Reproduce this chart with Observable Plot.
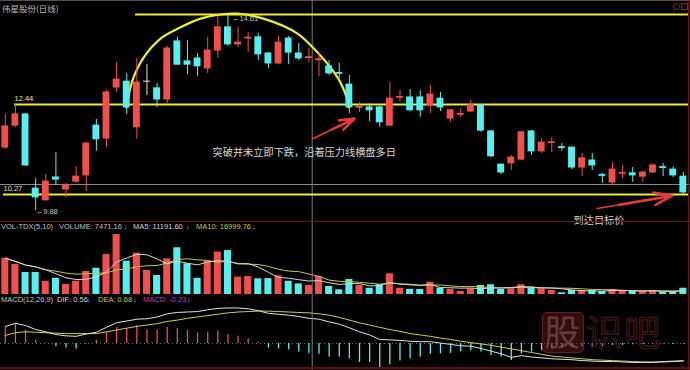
<!DOCTYPE html>
<html>
<head>
<meta charset="utf-8">
<script src="https://cdn.jsdelivr.net/npm/d3@7"></script>
<script src="https://cdn.jsdelivr.net/npm/@observablehq/plot@0.6"></script>
<style>
  html, body { margin: 0; padding: 0; background: #000; }
  #chart { position: relative; width: 690px; height: 370px; background: #000; overflow: hidden;
           font-family: "Liberation Sans", Arial, sans-serif; }
  .panel { position: absolute; left: 0; width: 690px; }
  .panel svg { display: block; }
  .txt { position: absolute; font-size: 7.5px; line-height: 8px; white-space: pre; }
  .hline { position: absolute; left: 0; width: 690px; }
  #title { position: absolute; left: 2px; top: 3px; font-family: "Noto Sans CJK SC", sans-serif;
           font-size: 8.5px; line-height: 10px; color: #bdbdbd; white-space: pre; }
  #mark { position: absolute; left: 542px; top: 311px; width: 125px; height: 42px; pointer-events: none; }
  #mark .box { position: absolute; left: 0; top: 1px; width: 40px; height: 39px; border-radius: 5px;
               background: rgba(95, 26, 26, 0.55); border: 1px solid rgba(125, 45, 45, 0.6); }
  #mark .gu { position: absolute; left: 2px; top: -2px; font-family: "Noto Sans CJK SC", sans-serif;
              font-size: 36px; line-height: 42px; color: rgba(140, 110, 110, 0.5); }
  #mark .rest { position: absolute; left: 44px; top: -2px; font-family: "Noto Sans CJK SC", sans-serif;
                font-size: 36px; line-height: 42px; color: rgba(30, 6, 6, 0.35);
                -webkit-text-stroke: 1.3px rgba(100, 34, 34, 0.65); letter-spacing: 2px; }
</style>
</head>
<body>
<div id="chart">
  <div class="hline" style="top:0;height:1px;background:#505050"></div>
  <div class="panel" id="pMain" style="top:0"></div>
  <div class="panel" id="pVol" style="top:222px"></div>
  <div class="panel" id="pMacd" style="top:295px"></div>
  <div class="hline" style="top:221px;height:1px;background:#6a1414"></div>
  <div class="hline" style="top:367px;height:2px;background:#5e1010"></div>
  <div style="position:absolute;left:688px;top:0;width:1px;height:370px;background:#6a1414"></div>
  <div style="position:absolute;left:673px;top:3px;width:5px;height:5px;border:1px solid #a02424;border-radius:50%"></div>
  <div style="position:absolute;left:681px;top:3px;width:5px;height:5px;border:1px solid #a02424"></div>
  <div id="title">伟星股份(日线)</div>
  <div id="hdr"></div>
  <div id="mark"><div class="box"></div><div class="gu">股</div><div class="rest">识吧</div></div>
</div>
<script>
// Daily candles of 伟星股份, oldest first (CNY)
const open  = [11.40, 11.93, 12.20, 10.41, 10.13, 10.68, 10.39, 10.58, 10.73, 11.93,
               11.62, 12.85, 12.99, 11.89, 12.99, 12.83, 12.56, 13.96, 13.48, 13.55,
               13.31, 13.74, 14.30, 13.89, 14.03, 14.06, 13.67, 13.43, 14.03, 13.67,
               13.56, 13.51, 13.36, 13.20, 12.92, 12.36, 12.37, 12.37, 11.93, 12.60,
               12.61, 12.61, 12.42, 12.58, 12.10, 12.19, 12.27, 12.42, 11.79, 10.99,
               11.02, 11.11, 11.79, 11.31, 11.51, 11.41, 11.40, 10.92, 11.09, 10.74,
               10.56, 10.77, 10.78, 10.70, 10.80, 10.93, 10.87, 10.70];
const high  = [12.20, 12.44, 12.22, 10.65, 10.75, 11.28, 10.54, 10.94, 11.52, 12.08,
               12.78, 13.45, 13.19, 13.55, 13.40, 12.95, 13.84, 14.06, 13.98, 13.67,
               14.06, 14.56, 14.61, 14.30, 14.18, 14.15, 13.69, 14.08, 14.08, 13.91,
               13.79, 13.69, 13.50, 13.43, 13.14, 12.49, 12.46, 12.39, 12.97, 12.78,
               12.80, 12.78, 12.90, 12.73, 12.32, 12.34, 12.54, 12.44, 11.81, 11.00,
               11.21, 11.79, 11.81, 11.62, 11.64, 11.50, 11.41, 11.26, 11.26, 10.78,
               11.04, 10.97, 10.92, 10.82, 11.00, 11.02, 10.94, 10.80];
const low   = [11.36, 11.89, 10.95, 9.88, 10.11, 10.49, 10.20, 10.54, 10.34, 11.31,
               11.40, 12.73, 12.20, 11.60, 12.66, 12.37, 12.46, 13.38, 13.16, 13.11,
               13.19, 13.55, 13.84, 13.81, 13.69, 13.50, 13.31, 13.40, 13.40, 13.50,
               13.45, 13.11, 13.14, 13.07, 12.22, 12.25, 12.03, 11.89, 11.91, 12.51,
               12.27, 12.13, 12.22, 12.27, 12.01, 12.13, 12.25, 11.77, 11.16, 10.75,
               10.85, 11.09, 11.21, 11.26, 11.28, 11.31, 10.87, 10.70, 10.85, 10.54,
               10.51, 10.65, 10.56, 10.56, 10.78, 10.70, 10.68, 10.27];
const close = [11.91, 12.20, 10.97, 10.20, 10.58, 10.63, 10.49, 10.70, 11.50, 11.60,
               12.73, 13.04, 12.37, 12.97, 12.99, 12.56, 13.79, 13.40, 13.40, 13.36,
               13.74, 14.30, 13.89, 13.93, 14.05, 13.65, 13.43, 13.93, 13.69, 13.55,
               13.58, 13.53, 13.19, 13.18, 12.37, 12.38, 12.30, 12.01, 12.58, 12.62,
               12.30, 12.30, 12.68, 12.37, 12.30, 12.21, 12.42, 11.81, 11.19, 10.80,
               11.16, 11.77, 11.31, 11.52, 11.53, 11.39, 10.92, 11.14, 10.97, 10.72,
               10.87, 10.79, 10.73, 10.80, 10.97, 10.91, 10.73, 10.32];
// Daily volume (lots)
const volume = [30100, 24900, 18300, 18300, 11000, 13500, 8300, 11000, 19100, 21800,
                33200, 49800, 27600, 34300, 19900, 15800, 29600, 38800, 25500, 13500,
                27400, 35200, 36500, 14400, 14900, 13039.6, 13200, 15500, 11000, 8786.84,
                7471.16, 14900, 6600, 3900, 12500, 7500, 5200, 8100, 17200, 5200,
                4200, 4200, 10200, 5200, 4200, 2500, 4700, 7500, 8100, 4200,
                4700, 8100, 6100, 4700, 3300, 1400, 3300, 3300, 3300, 2500,
                4200, 3300, 2500, 2500, 3300, 1900, 2500, 5200];
// MACD(12,26,9): DIF, DEA and the MACD histogram
const dif  = [0.38, 0.45, 0.40, 0.31, 0.26, 0.20, 0.17, 0.16, 0.21, 0.25,
              0.36, 0.46, 0.50, 0.54, 0.55, 0.59, 0.66, 0.69, 0.70, 0.71,
              0.75, 0.78, 0.79, 0.79, 0.77, 0.73, 0.67, 0.65, 0.63, 0.60,
              0.56, 0.54, 0.48, 0.43, 0.35, 0.26, 0.19, 0.09, 0.08, 0.07,
              0.05, 0.04, 0.04, 0.01, -0.02, -0.05, -0.06, -0.11, -0.17, -0.23,
              -0.31, -0.27, -0.30, -0.32, -0.34, -0.35, -0.36, -0.38, -0.39, -0.40,
              -0.40, -0.41, -0.42, -0.42, -0.42, -0.41, -0.40, -0.39];
const dea  = [0.18, 0.24, 0.26, 0.25, 0.24, 0.23, 0.22, 0.22, 0.22, 0.22,
              0.26, 0.30, 0.34, 0.38, 0.41, 0.44, 0.49, 0.52, 0.56, 0.59,
              0.62, 0.65, 0.68, 0.70, 0.71, 0.72, 0.72, 0.71, 0.70, 0.69,
              0.68, 0.66, 0.63, 0.58, 0.52, 0.46, 0.41, 0.36, 0.31, 0.27,
              0.22, 0.19, 0.16, 0.12, 0.09, 0.05, 0.02, -0.01, -0.04, -0.08,
              -0.12, -0.16, -0.20, -0.24, -0.28, -0.30, -0.32, -0.34, -0.36, -0.37,
              -0.38, -0.39, -0.40, -0.41, -0.41, -0.40, -0.39, -0.38];
const macd = [0.36, 0.44, 0.29, 0.08, 0.01, -0.07, -0.10, -0.12, -0.01, 0.07,
              0.25, 0.36, 0.33, 0.40, 0.30, 0.30, 0.36, 0.33, 0.29, 0.23,
              0.25, 0.27, 0.20, 0.16, 0.10, 0.03, -0.10, -0.12, -0.14, -0.19,
              -0.23, -0.24, -0.30, -0.30, -0.34, -0.42, -0.42, -0.54, -0.47, -0.39,
              -0.34, -0.30, -0.24, -0.23, -0.22, -0.19, -0.16, -0.19, -0.27, -0.30,
              -0.38, -0.23, -0.19, -0.16, -0.12, -0.10, -0.08, -0.08, -0.07, -0.07,
              -0.04, -0.04, -0.03, -0.02, -0.01, -0.01, -0.02, -0.01];

// Bar under the crosshair; the indicator readouts describe this day
const cursor = 30;
// Horizontal price lines drawn on the chart and where each one begins (bar index)
const levels = [14.61, 12.44, 10.27];
const levelStart = [12.87, 0.91, -0.18];
const levelLabels = ["", "12.44", "10.27"];
const support = 10.51;
// Rounded top traced over the peak (bar index, price)
const arcIndex = [11.98, 12.57, 13.66, 15.34, 17.31, 19.29, 21.26, 22.94, 25.51, 28.87, 30.95, 32.14, 33.12, 33.81, 33.91];
const arcPrice = [12.37, 13.02, 13.57, 14.03, 14.30, 14.51, 14.61, 14.63, 14.51, 14.15, 13.67, 13.33, 12.97, 12.54, 12.37];
// Commentary and pointers
const notes = ["突破并未立即下跌，沿着压力线横盘多日", "到达目标价"];
const noteIndex = [20.48, 56.15];
const notePrice = [11.28, 9.64];
const arrowFromIndex = [30.33, 58.49], arrowFromPrice = [11.61, 9.93];
const arrowToIndex = [34.51, 65.90], arrowToPrice = [12.10, 10.24];

const UP = "#f24e4e", DOWN = "#54f0f0", FLAT = "#e4e4e4";
const LATIN = "Liberation Sans, Arial, sans-serif";
const CJK = "Noto Sans CJK SC, sans-serif";

const rows = open.map((o, i) => ({
  i, o, h: high[i], l: low[i], c: close[i], v: volume[i],
  dif: dif[i], dea: dea[i], m: macd[i],
  color: close[i] > o ? UP : close[i] < o ? DOWN : FLAT
}));
const levelRows = levels.map((p, k) => ({p, from: levelStart[k], label: levelLabels[k]}));
const arcRows = arcIndex.map((i, k) => ({i, p: arcPrice[k]}));
const noteRows = notes.map((t, k) => ({t, i: noteIndex[k], p: notePrice[k]}));
const arrowRows = arrowFromIndex.map((i, k) => ({
  x1: i, y1: arrowFromPrice[k], x2: arrowToIndex[k], y2: arrowToPrice[k]
}));
const hiRow = rows.reduce((a, b) => (b.h > a.h ? b : a));
const loRow = rows.reduce((a, b) => (b.l < a.l ? b : a));

// Shared horizontal layout: bar i is centred at 4.8 + 10.12·i pixels
const STEP = 10.12, OFFSET = 4.8, W = 690;
const xOpt = {domain: [-OFFSET / STEP, (W - OFFSET) / STEP], range: [0, W], axis: null};
const XEND = (688 - OFFSET) / STEP;
const frame = {
  width: W, marginTop: 0, marginRight: 0, marginBottom: 0, marginLeft: 0,
  style: {background: "transparent", overflow: "visible"},
  color: {type: "identity"}
};
const crosshair = () => Plot.ruleX([cursor], {dx: 3.3, stroke: "#7c7c7c", strokeWidth: 1});

// Price panel
const main = Plot.plot({
  ...frame, height: 222, x: xOpt,
  y: {domain: [9.5943, 14.9476], range: [222, 0], axis: null},
  marks: [
    Plot.ruleY([support], {stroke: "#8e8e8e", strokeWidth: 1}),
    crosshair(),
    Plot.ruleY(levelRows, {y: "p", x1: "from", x2: XEND, stroke: "#ecec3a", strokeWidth: 2}),
    Plot.text(levelRows.filter(d => d.label), {
      x: "from", y: "p", text: "label", dy: -6, textAnchor: "start",
      fill: "#e6e6b2", fontSize: 7.5, fontFamily: LATIN
    }),
    Plot.line(arcRows, {x: "i", y: "p", curve: "catmull-rom", stroke: "#eeee30", strokeWidth: 2.2}),
    Plot.ruleX(rows, {x: "i", y1: "l", y2: "h", stroke: "color", strokeWidth: 1}),
    Plot.rect(rows, {
      x1: d => d.i - 0.34, x2: d => d.i + 0.34, y1: "o", y2: "c",
      fill: "color", insetTop: -0.5, insetBottom: -0.5
    }),
    Plot.text([hiRow], {
      x: "i", y: "h", text: d => "←" + d.h.toFixed(2), dx: 4, dy: 4, textAnchor: "start",
      fill: "#c4c4c4", fontSize: 7.5, fontFamily: LATIN
    }),
    Plot.text([loRow], {
      x: "i", y: "l", text: d => "←" + d.l.toFixed(2), dx: 0, dy: 1, textAnchor: "start",
      fill: "#c4c4c4", fontSize: 7.5, fontFamily: LATIN
    }),
    // tapered pointer: thin shaft plus a heavier head
    Plot.arrow(arrowRows, {
      x1: "x1", y1: "y1", x2: "x2", y2: "y2",
      stroke: "#e53a3a", strokeWidth: 1.6, headLength: 0
    }),
    Plot.arrow(arrowRows, {
      x1: "x1", y1: "y1", x2: "x2", y2: "y2", insetStart: 22,
      stroke: "#e53a3a", strokeWidth: 2.6, headLength: 11, headAngle: 38, strokeLinejoin: "miter"
    }),
    Plot.text(noteRows, {
      x: "i", y: "p", text: "t", textAnchor: "start",
      fill: "#d6d6d6", fontSize: 10.2, fontFamily: CJK
    })
  ]
});
document.getElementById("pMain").append(main);

// Volume panel with 5- and 10-day averages
const volPanel = Plot.plot({
  ...frame, height: 73, x: xOpt,
  y: {domain: [-830, 59760], range: [73, 0], axis: null},
  marks: [
    Plot.rectY(rows, {
      x1: d => d.i - 0.35, x2: d => d.i + 0.35, y: "v",
      fill: d => (d.c >= d.o ? UP : DOWN)
    }),
    Plot.lineY(rows, Plot.windowY({k: 10, anchor: "end"}, {x: "i", y: "v", stroke: "#c8c846", strokeWidth: 1})),
    Plot.lineY(rows, Plot.windowY({k: 5, anchor: "end"}, {x: "i", y: "v", stroke: "#d6d6d6", strokeWidth: 1})),
    crosshair()
  ]
});
document.getElementById("pVol").append(volPanel);

// MACD panel
const macdPanel = Plot.plot({
  ...frame, height: 75, x: xOpt,
  y: {domain: [-0.6, 48 / 45], range: [75, 0], axis: null},
  marks: [
    Plot.ruleY([0], {stroke: "#8a8a8a", strokeDasharray: "1,3", strokeOpacity: 0.8}),
    Plot.ruleX(rows, {x: "i", y1: 0, y2: "m", stroke: d => (d.m >= 0 ? UP : DOWN), strokeWidth: 1.3}),
    Plot.line(rows, {x: "i", y: "dea", stroke: "#cfcf42", strokeWidth: 1}),
    Plot.line(rows, {x: "i", y: "dif", stroke: "#e2e2e2", strokeWidth: 1}),
    crosshair()
  ]
});
document.getElementById("pMacd").append(macdPanel);

// Indicator readouts for the crosshair day
const ma = k => d3.mean(volume.slice(cursor - k + 1, cursor + 1)).toFixed(2);
const readouts = [
  {x: 1, y: 223, t: "VOL-TDX(5,10)", c: "#c2c2c2"},
  {x: 59, y: 223, t: "VOLUME: " + volume[cursor].toFixed(2), c: "#c2c2c2"},
  {x: 124, y: 223, t: "↓", c: "#3ccde0"},
  {x: 133, y: 223, t: "MA5: " + ma(5), c: "#d4d4d4"},
  {x: 186, y: 223, t: "↓", c: "#3ccde0"},
  {x: 196, y: 223, t: "MA10: " + ma(10), c: "#c8c846"},
  {x: 252, y: 223, t: "↓", c: "#3ccde0"},
  {x: 1, y: 296, t: "MACD(12,26,9)", c: "#c2c2c2"},
  {x: 57, y: 296, t: "DIF: " + dif[cursor].toFixed(2), c: "#d4d4d4"},
  {x: 87, y: 296, t: "↓", c: "#3ccde0"},
  {x: 98, y: 296, t: "DEA: " + dea[cursor].toFixed(2), c: "#c8c846"},
  {x: 133, y: 296, t: "↓", c: "#3ccde0"},
  {x: 143, y: 296, t: "MACD: " + macd[cursor].toFixed(2), c: "#c23cc2"},
  {x: 187, y: 296, t: "↓", c: "#3ccde0"}
];
const hdr = document.getElementById("hdr");
for (const r of readouts) {
  const s = document.createElement("div");
  s.className = "txt";
  s.style.left = r.x + "px";
  s.style.top = r.y + "px";
  s.style.color = r.c;
  s.textContent = r.t;
  hdr.append(s);
}
</script>
</body>
</html>
